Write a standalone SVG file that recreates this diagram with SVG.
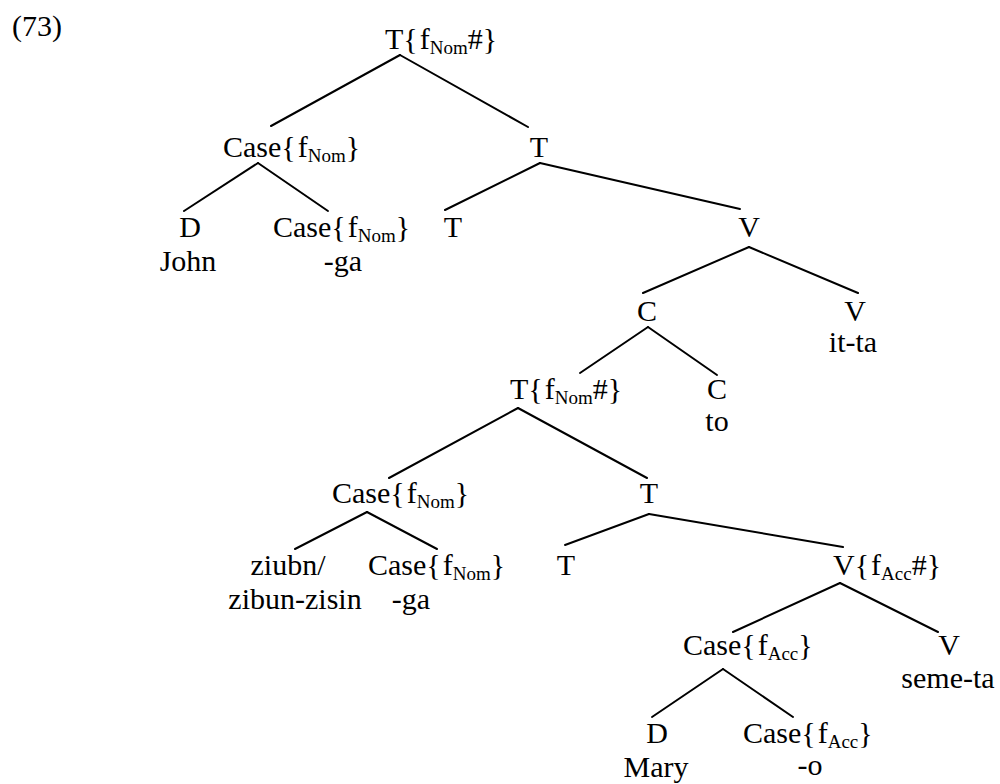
<svg xmlns="http://www.w3.org/2000/svg" width="1000" height="784" viewBox="0 0 1000 784">
<style>
text{font-family:"Liberation Serif","Times New Roman",serif;font-size:30px;fill:#000}
.m{text-anchor:middle}
.sub{font-size:19px}
.edges line{stroke:#000;stroke-width:2;stroke-linecap:round}
</style>
<rect width="1000" height="784" fill="#fff"/>
<text x="12" y="36">(73)</text>
<g class="edges">
<line x1="400" y1="55" x2="271" y2="126"/>
<line x1="400" y1="55" x2="528" y2="127"/>
<line x1="258" y1="163" x2="184" y2="211"/>
<line x1="258" y1="163" x2="328" y2="211"/>
<line x1="540" y1="163" x2="445" y2="210"/>
<line x1="540" y1="163" x2="740" y2="209"/>
<line x1="749" y1="247" x2="643" y2="293"/>
<line x1="749" y1="247" x2="858" y2="293"/>
<line x1="648" y1="327" x2="580" y2="373"/>
<line x1="648" y1="327" x2="717" y2="375"/>
<line x1="518" y1="408" x2="389" y2="478"/>
<line x1="518" y1="408" x2="647" y2="478"/>
<line x1="367" y1="512" x2="295" y2="549"/>
<line x1="367" y1="512" x2="437" y2="549"/>
<line x1="649" y1="514" x2="565" y2="545"/>
<line x1="649" y1="514" x2="843" y2="547"/>
<line x1="840" y1="583" x2="733" y2="632"/>
<line x1="840" y1="583" x2="938" y2="632"/>
<line x1="723" y1="669" x2="652" y2="717"/>
<line x1="723" y1="669" x2="793" y2="717"/>
</g>
<g id="n-T-top"><text x="385" y="49">T{<tspan dx="2">f</tspan><tspan class="sub" dy="5">Nom</tspan><tspan dy="-5">#}</tspan></text></g>
<g id="n-Case1"><text x="223" y="157">Case{<tspan dx="2">f</tspan><tspan class="sub" dy="5">Nom</tspan><tspan dy="-5">}</tspan></text></g>
<g id="n-T1"><text class="m" x="539" y="157">T</text></g>
<g id="n-D1"><text class="m" x="190" y="237">D</text><text class="m" x="188" y="271">John</text></g>
<g id="n-Case1b"><text x="273" y="237">Case{<tspan dx="2">f</tspan><tspan class="sub" dy="5">Nom</tspan><tspan dy="-5">}</tspan></text><text class="m" x="343" y="271">-ga</text></g>
<g id="n-T1a"><text class="m" x="453" y="237">T</text></g>
<g id="n-V1"><text class="m" x="749" y="237">V</text></g>
<g id="n-C1"><text class="m" x="647" y="321">C</text></g>
<g id="n-V2"><text class="m" x="855" y="321">V</text><text class="m" x="853" y="352">it-ta</text></g>
<g id="n-T2"><text x="510" y="399">T{<tspan dx="2">f</tspan><tspan class="sub" dy="5">Nom</tspan><tspan dy="-5">#}</tspan></text></g>
<g id="n-C2"><text class="m" x="717" y="399">C</text><text class="m" x="717" y="431">to</text></g>
<g id="n-Case2"><text x="332" y="503">Case{<tspan dx="2">f</tspan><tspan class="sub" dy="5">Nom</tspan><tspan dy="-5">}</tspan></text></g>
<g id="n-T3"><text class="m" x="649" y="503">T</text></g>
<g id="n-zibun"><text class="m" x="288" y="575">ziubn/</text><text class="m" x="295" y="609">zibun-zisin</text></g>
<g id="n-Case2b"><text x="368" y="575">Case{<tspan dx="2">f</tspan><tspan class="sub" dy="5">Nom</tspan><tspan dy="-5">}</tspan></text><text class="m" x="411" y="609">-ga</text></g>
<g id="n-T3a"><text class="m" x="566" y="575">T</text></g>
<g id="n-V3"><text x="833" y="575">V{<tspan dx="2">f</tspan><tspan class="sub" dy="5">Acc</tspan><tspan dy="-5">#}</tspan></text></g>
<g id="n-Case3"><text x="683" y="655">Case{<tspan dx="2">f</tspan><tspan class="sub" dy="5">Acc</tspan><tspan dy="-5">}</tspan></text></g>
<g id="n-V4"><text class="m" x="949" y="655">V</text><text class="m" x="948" y="688">seme-ta</text></g>
<g id="n-D2"><text class="m" x="657" y="743">D</text><text class="m" x="656" y="777">Mary</text></g>
<g id="n-Case3b"><text x="743" y="743">Case{<tspan dx="2">f</tspan><tspan class="sub" dy="5">Acc</tspan><tspan dy="-5">}</tspan></text><text class="m" x="810" y="775">-o</text></g>
</svg>
